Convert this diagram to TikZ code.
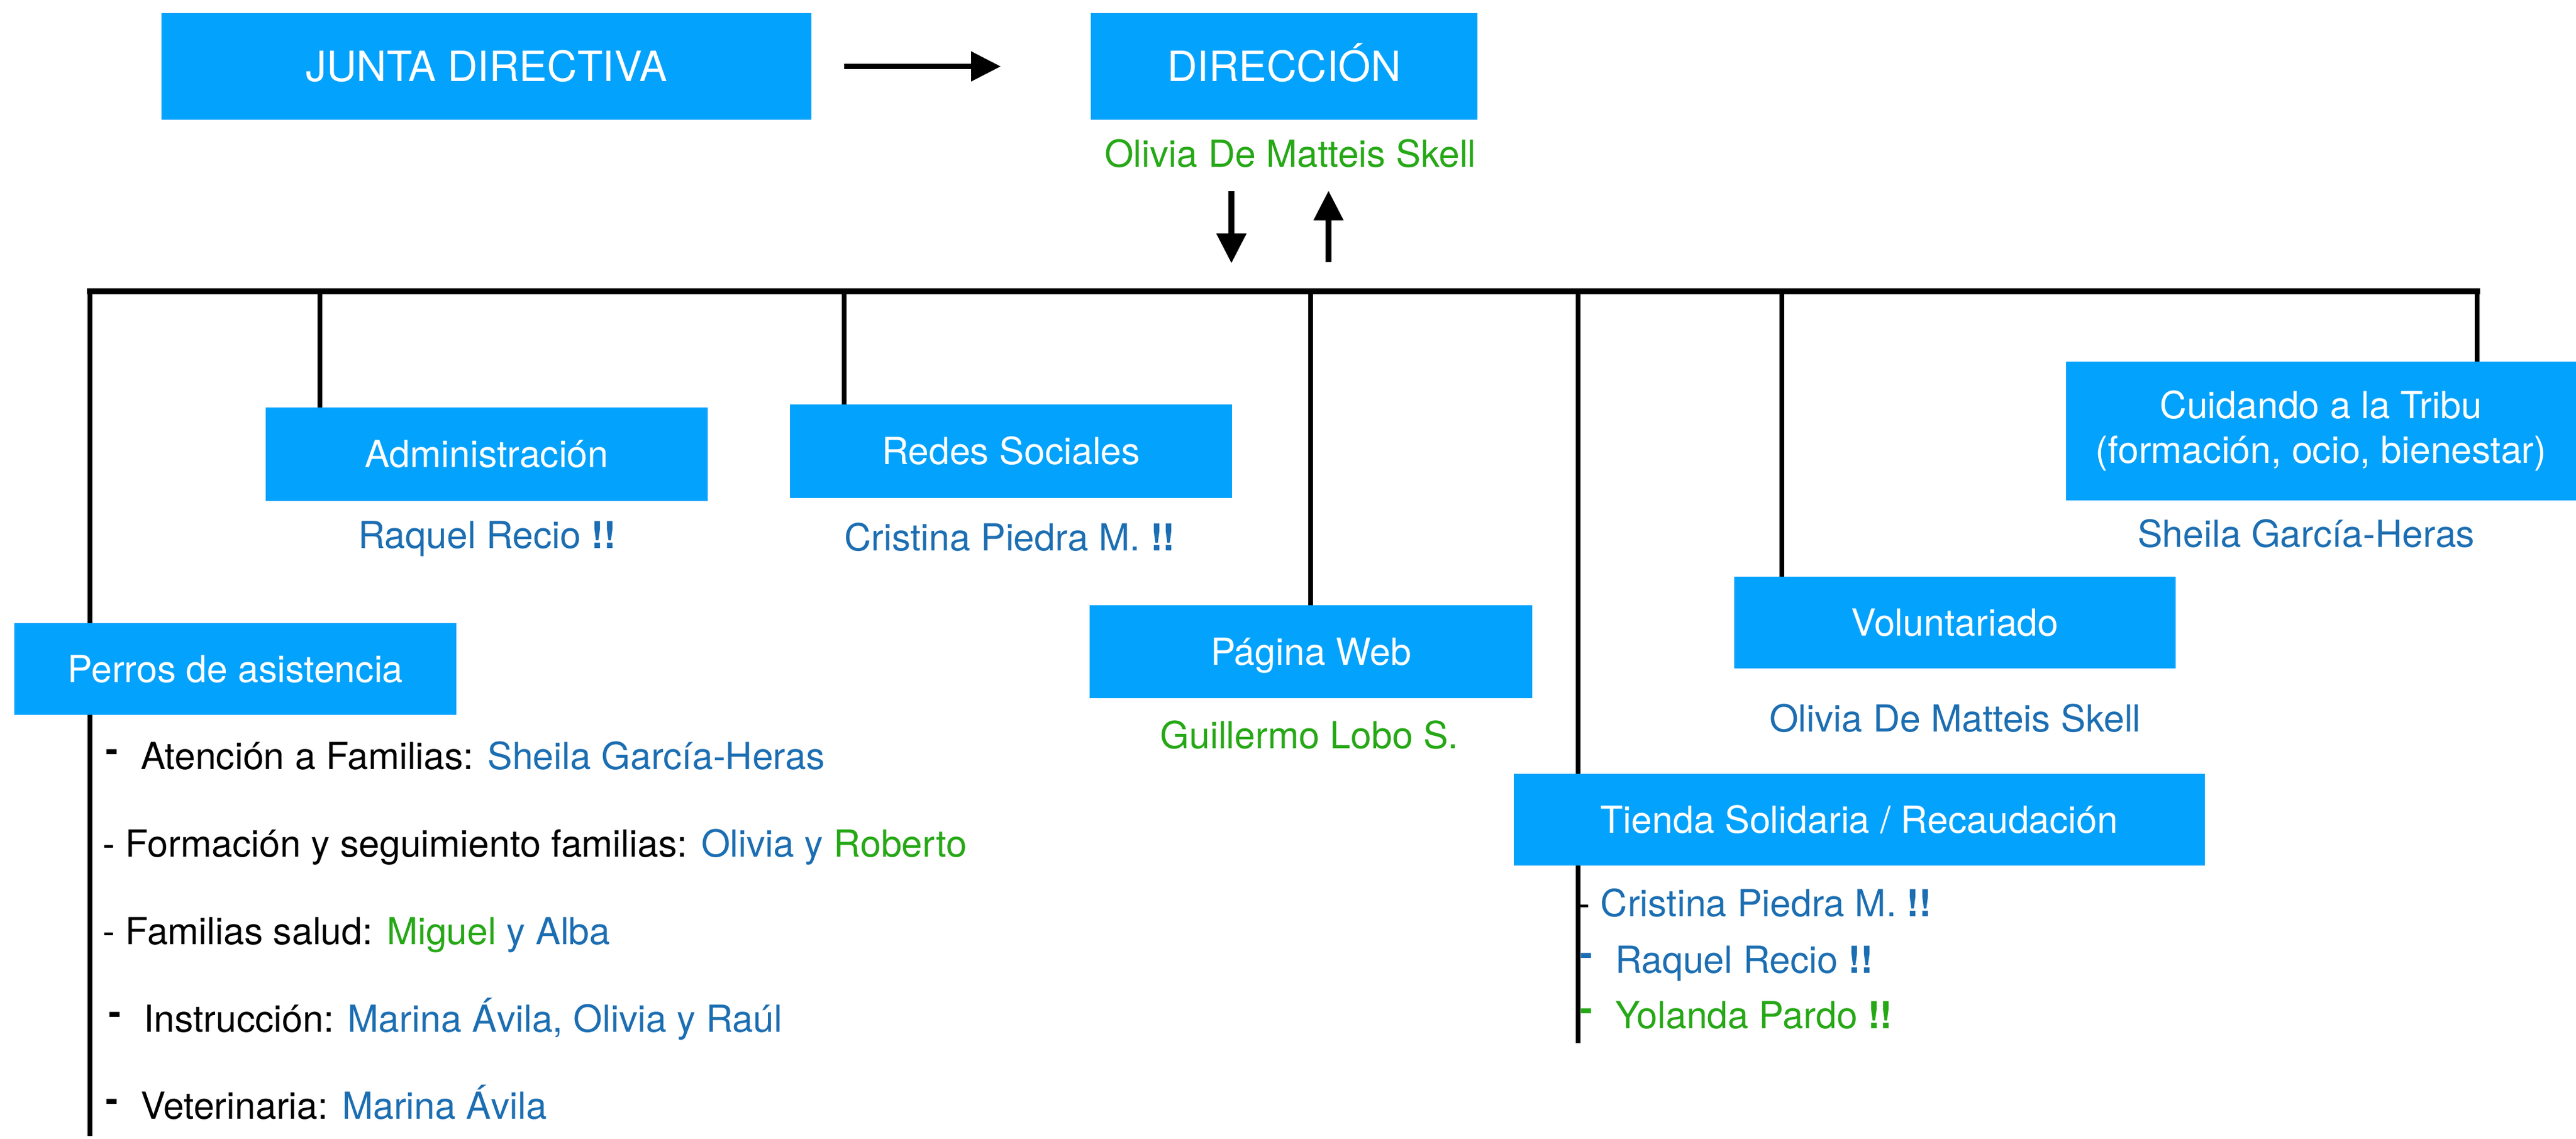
\documentclass[tikz,border=0pt]{standalone}
\usepackage{fontspec}
\setmainfont{TeX Gyre Heros}
\usetikzlibrary{arrows.meta}

\definecolor{boxblue}{RGB}{3, 162, 252}
\definecolor{nameblue}{RGB}{28, 110, 178}
\definecolor{namegreen}{RGB}{38, 168, 22}

\newcommand{\bdash}{\raisebox{0.19em}{\textbf{-}}\hspace{0.6em}}

\begin{document}
\begin{tikzpicture}[
    areabox/.style={fill=boxblue, text=white, inner sep=0pt, outer sep=0pt, font=\fontsize{17.8pt}{21.4pt}\selectfont},
    unitbox/.style={areabox, text height=12.8pt, text depth=0pt},
    headbox/.style={areabox, text height=14.3pt, text depth=0pt, font=\fontsize{19.9pt}{24pt}\selectfont},
    person/.style={anchor=base, inner sep=0pt, font=\fontsize{17.8pt}{21.4pt}\selectfont},
    item/.style={anchor=base west, inner sep=0pt, font=\fontsize{17.8pt}{21.4pt}\selectfont},
    bus/.style={line width=2.8pt, line cap=rect},
    drop/.style={line width=2.4pt},
    flow/.style={line width=2.8pt, -{Triangle[length=0.5cm, width=0.48cm]}}
  ]
  \fill[white] (0,0) rectangle (43.24,-19.07);

  % Top
  \node[headbox, minimum width=10.91cm, minimum height=1.79cm] (junta) at (8.165,-1.115) {JUNTA DIRECTIVA};
  \node[headbox, minimum width=6.49cm, minimum height=1.79cm] (dir) at (21.555,-1.115) {DIRECCIÓN};
  \node[person, text=namegreen] (dirname) at (21.66,-2.81) {Olivia De Matteis Skell};

  % Areas
  \node[unitbox, minimum width=7.42cm, minimum height=1.57cm] (admin) at (8.17,-7.625) {Administración};
  \node[unitbox, minimum width=7.42cm, minimum height=1.57cm] (redes) at (16.97,-7.575) {Redes Sociales};
  \node[unitbox, minimum width=7.43cm, minimum height=1.56cm] (web) at (22.005,-10.94) {Página Web};
  \node[unitbox, minimum width=7.42cm, minimum height=1.54cm] (perros) at (3.95,-11.23) {Perros de asistencia};
  \node[unitbox, minimum width=7.41cm, minimum height=1.54cm] (volunt) at (32.815,-10.45) {Voluntariado};
  \node[unitbox, minimum width=11.60cm, minimum height=1.54cm] (tienda) at (31.21,-13.76) {Tienda Solidaria / Recaudación};
  \node[areabox, align=center, minimum width=8.56cm, minimum height=2.33cm] (cuidando) at (38.96,-7.235) {Cuidando a la Tribu\\(formación, ocio, bienestar)};

  % Names
  \node[person, text=nameblue] (adminname) at (8.18,-9.20) {Raquel Recio \textbf{!!}};
  \node[person, text=nameblue] (redesname) at (16.95,-9.24) {Cristina Piedra M. \textbf{!!}};
  \node[person, text=namegreen] (webname) at (21.98,-12.56) {Guillermo Lobo S.};
  \node[person, text=nameblue] (voluntname) at (32.82,-12.28) {Olivia De Matteis Skell};
  \node[person, text=nameblue] (cuidname) at (38.71,-9.18) {Sheila García-Heras};

  % Perros de asistencia
  \node[item] (atencion) at (1.77,-12.91) {\bdash Atención a Familias: {\color{nameblue}Sheila García-Heras}};
  \node[item] (formacion) at (1.72,-14.38) {- Formación y seguimiento familias: {\color{nameblue}Olivia y} {\color{namegreen}Roberto}};
  \node[item] (salud) at (1.72,-15.85) {- Familias salud: {\color{namegreen}Miguel} {\color{nameblue}y Alba}};
  \node[item] (instruccion) at (1.82,-17.32) {\bdash Instrucción: {\color{nameblue}Marina Ávila, Olivia y Raúl}};
  \node[item] (veterinaria) at (1.77,-18.78) {\bdash Veterinaria: {\color{nameblue}Marina Ávila}};

  % Tienda
  \node[item] (cristina) at (26.48,-15.38) {- {\color{nameblue}Cristina Piedra M. \textbf{!!}}};
  \node[item, text=nameblue] (raquel) at (26.52,-16.33) {\bdash Raquel Recio \textbf{!!}};
  \node[item, text=namegreen] (yolanda) at (26.52,-17.26) {\bdash Yolanda Pardo \textbf{!!}};

  % Bus
  \coordinate (b0) at (1.51,-4.89);
  \coordinate (b1) at (5.37,-4.89);
  \coordinate (b2) at (14.17,-4.89);
  \coordinate (b3) at (22.00,-4.89);
  \coordinate (b4) at (26.49,-4.89);
  \coordinate (b5) at (29.91,-4.89);
  \coordinate (b6) at (41.58,-4.89);
  \coordinate (pend) at (1.51,-19.07);
  \coordinate (tend) at (26.49,-17.51);
  \draw[bus] (b0) -- (b6);

  % Drops
  \draw[drop] (b0) -- (b0 |- perros.north);
  \draw[drop] (b0 |- perros.south) -- (pend);
  \draw[drop] (b1) -- (b1 |- admin.north);
  \draw[drop] (b2) -- (b2 |- redes.north);
  \draw[drop] (b3) -- (b3 |- web.north);
  \draw[drop] (b4) -- (b4 |- tienda.north);
  \draw[drop] (b4 |- tienda.south) -- (tend);
  \draw[drop] (b5) -- (b5 |- volunt.north);
  \draw[drop] (b6) -- (b6 |- cuidando.north);

  % Arrows
  \draw[flow] ([xshift=0.55cm]junta.east) -- ([xshift=-1.51cm]dir.west);
  \draw[flow] ([xshift=-0.885cm, yshift=-1.20cm]dir.south) -- ([xshift=-0.885cm, yshift=-2.41cm]dir.south);
  \draw[flow] ([xshift=0.745cm, yshift=-2.39cm]dir.south) -- ([xshift=0.745cm, yshift=-1.19cm]dir.south);
\end{tikzpicture}
\end{document}
